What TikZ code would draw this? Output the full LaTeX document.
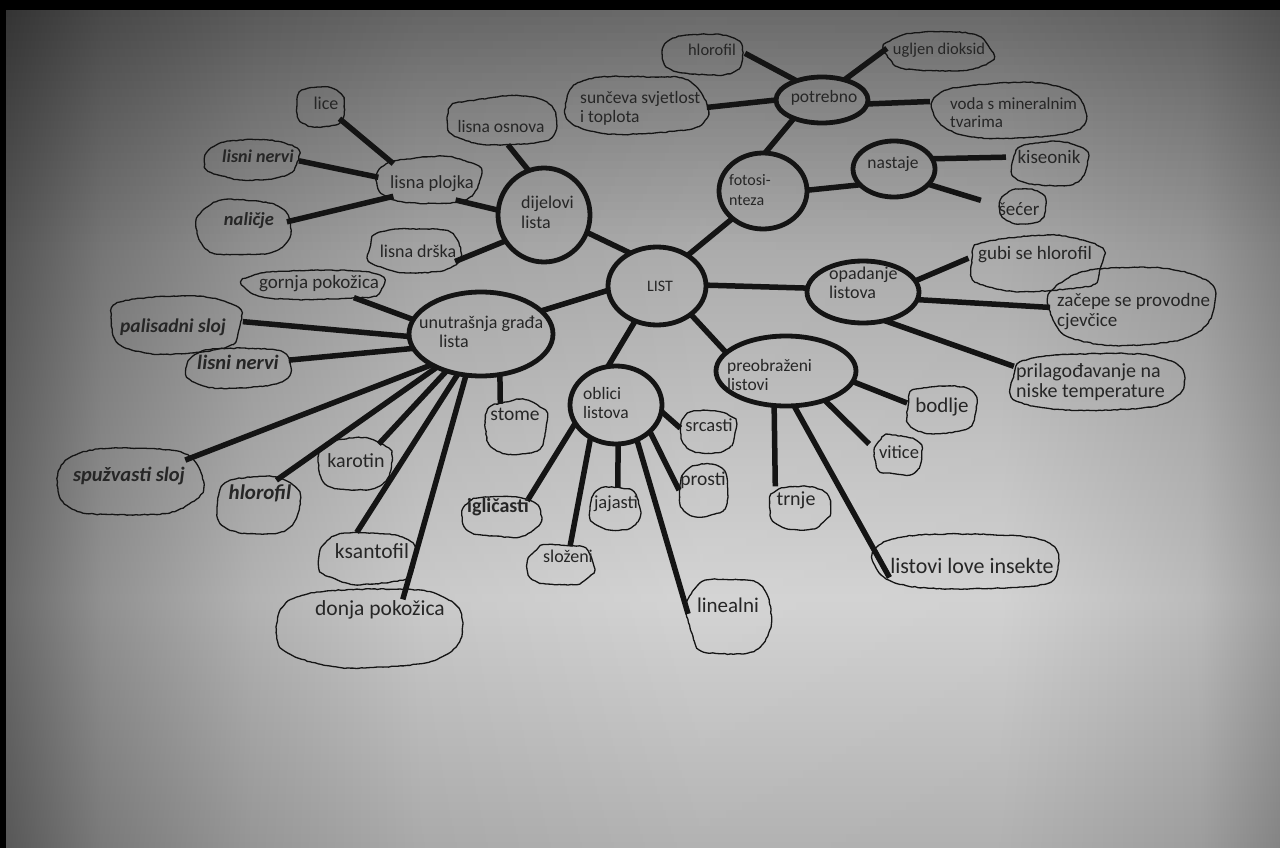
\documentclass[tikz,border=0pt]{standalone}
\usepackage{fontspec}
\setmainfont{Carlito}
\usetikzlibrary{shapes.geometric,decorations.pathmorphing}
\definecolor{ink}{HTML}{141414}
\definecolor{txt}{HTML}{262626}
\newcommand\fsz[1]{\fontsize{#1}{19.5}\selectfont}
\newcommand\blob[3]{%
  \draw[blobline, shift={(#1.center)}] plot[smooth cycle, tension=0.55, variable=\t, samples=12, domain=8:338]
   ({#2*(1+0.07*rand)*sign(cos(\t))*(abs(cos(\t))+0.001)^0.75},
    {#3*(1+0.07*rand)*sign(sin(\t))*(abs(sin(\t))+0.001)^0.75});
}
\tikzset{
  conn/.style={line width=5.5pt, draw=ink},
  mainell/.style={ellipse, draw=ink, line width=4.8pt, inner sep=0pt, outer sep=0pt},
  leaf/.style={ellipse, inner sep=0pt, outer sep=0pt},
  blobline/.style={draw=ink, line width=1.3pt, line join=round,
    decorate, decoration={random steps, segment length=3pt, amplitude=0.45pt}},
  lt/.style={text=txt, inner sep=0pt, font=\fsz{18}},
}
\begin{document}
\begin{tikzpicture}[x=1pt,y=-1pt]
\pgfmathsetseed{7}
\useasboundingbox (0,0) rectangle (1280,848);
% ---------- photographed paper background ----------
\foreach \yy in {10,18,...,842}{
  \pgfmathsetmacro\C{105 + 27*min(1,max(0,(\yy+4-10)/90)) + 40*min(1,max(0,(\yy+4-100)/150)) + 24*min(1,max(0,(\yy+4-250)/200)) + 16*min(1,max(0,(\yy+4-450)/150)) - 34*min(1,max(0,(\yy+4-600)/248))}
  \foreach \xa/\xb/\fa/\fb in {0/100/0.48/0.68, 100/250/0.68/0.84, 250/420/0.84/0.95, 420/700/0.95/1.0, 700/1000/1.0/0.99, 1000/1200/0.99/0.88, 1200/1280/0.88/0.74}{
    \pgfmathsetmacro\va{\C*\fa/255}
    \pgfmathsetmacro\vb{\C*\fb/255}
    \definecolor{ca}{rgb}{\va,\va,\va}
    \definecolor{cb}{rgb}{\vb,\vb,\vb}
    \shade[left color=ca, right color=cb] (\xa,\yy) rectangle (\xb+0.6,\yy+8.6);
  }
}
\fill[black] (0,0) rectangle (1280,10);
\fill[black] (0,0) rectangle (6,848);

% ---------- main ellipses ----------
\node[mainell, minimum width=98pt, minimum height=78pt] (LIST) at (657,286) {};
\node[mainell, minimum width=92pt, minimum height=94pt] (dij) at (544,215) {};
\node[mainell, minimum width=88pt, minimum height=76pt] (foto) at (763,191) {};
\node[mainell, minimum width=92pt, minimum height=46pt] (potr) at (822,100) {};
\node[mainell, minimum width=82pt, minimum height=56pt] (nast) at (894,169) {};
\node[mainell, minimum width=112pt, minimum height=62pt] (opad) at (863,292) {};
\node[mainell, minimum width=140pt, minimum height=70pt] (preo) at (786,371) {};
\node[mainell, minimum width=92pt, minimum height=78pt] (obl) at (616,405) {};
\node[mainell, minimum width=144pt, minimum height=84pt] (unut) at (481,334) {};

% ---------- leaf areas ----------
\node[leaf, minimum width=48pt, minimum height=40pt] (lice) at (320,107) {};
\node[leaf, minimum width=92pt, minimum height=40pt] (lnerva) at (253,160) {};
\node[leaf, minimum width=90pt, minimum height=56pt] (nal) at (243,228) {};
\node[leaf, minimum width=104pt, minimum height=46pt] (plojka) at (430,180) {};
\node[leaf, minimum width=110pt, minimum height=48pt] (osnova) at (502,121) {};
\node[leaf, minimum width=94pt, minimum height=44pt] (drska) at (415,250) {};
\node[leaf, minimum width=144pt, minimum height=30pt] (gornja) at (315,285) {};
\node[leaf, minimum width=136pt, minimum height=58pt] (palis) at (175,324) {};
\node[leaf, minimum width=108pt, minimum height=40pt] (lnervb) at (239,368) {};
\node[leaf, minimum width=142pt, minimum height=68pt] (spuz) at (131,482) {};
\node[leaf, minimum width=84pt, minimum height=56pt] (hlorb) at (257,505) {};
\node[leaf, minimum width=74pt, minimum height=52pt] (karot) at (355,464) {};
\node[leaf, minimum width=98pt, minimum height=52pt] (ksant) at (366,558) {};
\node[leaf, minimum width=184pt, minimum height=80pt] (donja) at (372,627) {};
\node[leaf, minimum width=62pt, minimum height=54pt] (stome) at (516,427) {};
\node[leaf, minimum width=76pt, minimum height=42pt] (iglic) at (501,516) {};
\node[leaf, minimum width=50pt, minimum height=42pt] (jajas) at (615,508) {};
\node[leaf, minimum width=66pt, minimum height=40pt] (slozen) at (560,565) {};
\node[leaf, minimum width=56pt, minimum height=42pt] (srcas) at (708,431) {};
\node[leaf, minimum width=50pt, minimum height=52pt] (prost) at (704,491) {};
\node[leaf, minimum width=82pt, minimum height=78pt] (lineal) at (729,616) {};
\node[leaf, minimum width=62pt, minimum height=42pt] (trnje) at (799,508) {};
\node[leaf, minimum width=48pt, minimum height=40pt] (vitic) at (898,455) {};
\node[leaf, minimum width=70pt, minimum height=48pt] (bodlj) at (941,409) {};
\node[leaf, minimum width=188pt, minimum height=58pt] (insekt) at (969,562) {};
\node[leaf, minimum width=136pt, minimum height=56pt] (gubi) at (1035,264) {};
\node[leaf, minimum width=164pt, minimum height=76pt] (zacep) at (1132,306) {};
\node[leaf, minimum width=174pt, minimum height=60pt] (prilag) at (1097,382) {};
\node[leaf, minimum width=76pt, minimum height=44pt] (kiseo) at (1050,164) {};
\node[leaf, minimum width=46pt, minimum height=34pt] (secer) at (1023,207) {};
\node[leaf, minimum width=152pt, minimum height=56pt] (voda) at (1011,110) {};
\node[leaf, minimum width=106pt, minimum height=40pt] (uglj) at (939,52) {};
\node[leaf, minimum width=80pt, minimum height=42pt] (hlora) at (705,54) {};
\node[leaf, minimum width=140pt, minimum height=60pt] (sunc) at (637,105) {};

% ---------- connectors ----------
\draw[conn] (lice.-31) -- (plojka.156);
\draw[conn] (lnerva.-1) -- (plojka.177);
\draw[conn] (nal.8) -- (plojka.204);
\draw[conn] (plojka.-38) -- (dij.174);
\draw[conn] (osnova.-76) -- (dij.109);
\draw[conn] (drska.-16) -- (dij.214);
\draw[conn] (dij.-22) -- (LIST.129);
\draw[conn] (LIST.45) -- (foto.222);
\draw[conn] (foto.87) -- (potr.213);
\draw[conn] (foto.1) -- (nast.205);
\draw[conn] (potr.143) -- (hlora.1);
\draw[conn] (potr.42) -- (uglj.176);
\draw[conn] (potr.180) -- (sunc.-2);
\draw[conn, shorten >=9pt] (potr.-5) -- (voda.173);
\draw[conn, shorten >=8pt] (nast.15) -- (kiseo.169);
\draw[conn, shorten >=20pt] (nast.-24) -- (secer.178);
\draw[conn] (LIST.1) -- (opad.176);
\draw[conn] (opad.12) -- (gubi.175);
\draw[conn] (opad.-8) -- (zacep.181);
\draw[conn, shorten >=6pt] (opad.-53) -- (prilag.170);
\draw[conn] (LIST.-40) -- (preo.163);
\draw[conn] (preo.-9) -- (bodlj.170);
\draw[conn, shorten >=8pt] (preo.-37) -- (vitic.167);
\draw[conn, shorten >=8pt] (preo.-109) -- (trnje.150);
\draw[conn] (preo.-77) -- (insekt.191);
\draw[conn] (LIST.-122) -- (obl.102);
\draw[conn] (LIST.185) -- (unut.21);
\draw[conn] (obl.-8) -- (srcas.174);
\draw[conn] (obl.-38) -- (prost.178);
\draw[conn] (obl.-59) -- (lineal.177);
\draw[conn] (obl.-87) -- (jajas.82);
\draw[conn] (obl.-128) -- (slozen.62);
\draw[conn] (obl.204) -- (iglic.30);
\draw[conn] (unut.168) -- (gornja.-18);
\draw[conn] (unut.182) -- (palis.2);
\draw[conn] (unut.192) -- (lnervb.9);
\draw[conn] (unut.212) -- (spuz.22);
\draw[conn] (unut.217) -- (hlorb.52);
\draw[conn] (unut.227) -- (karot.40);
\draw[conn] (unut.240) -- (ksant.110);
\draw[conn, shorten >=-10pt] (unut.250) -- (donja.48);
\draw[conn] (unut.-65) -- (stome.124);

% ---------- hand-drawn outlines ----------
\blob{lice}{24}{20}
\blob{lnerva}{46}{20}
\blob{nal}{45}{28}
\blob{plojka}{52}{23}
\blob{osnova}{55}{24}
\blob{drska}{47}{22}
\blob{gornja}{72}{15}
\blob{palis}{68}{29}
\blob{lnervb}{54}{20}
\blob{spuz}{71}{34}
\blob{hlorb}{42}{28}
\blob{karot}{37}{26}
\blob{ksant}{49}{26}
\blob{donja}{92}{40}
\blob{stome}{31}{27}
\blob{iglic}{38}{21}
\blob{jajas}{25}{21}
\blob{slozen}{33}{20}
\blob{srcas}{28}{21}
\blob{prost}{25}{26}
\blob{lineal}{41}{39}
\blob{trnje}{31}{21}
\blob{vitic}{24}{20}
\blob{bodlj}{35}{24}
\blob{insekt}{94}{29}
\blob{gubi}{68}{28}
\blob{zacep}{82}{38}
\blob{prilag}{87}{30}
\blob{kiseo}{38}{22}
\blob{secer}{23}{17}
\blob{voda}{76}{28}
\blob{uglj}{53}{20}
\blob{hlora}{40}{21}
\blob{sunc}{70}{30}

% ---------- texts of the main ellipses ----------
\node[lt, font=\fsz{16}] (LISTt) at (660,286) {LIST};
\node[lt, anchor=west, align=left, font=\fontsize{18}{20}\selectfont] (dijt) at (521,212) {dijelovi\\lista};
\node[lt, anchor=west, align=left, font=\fsz{16}] (fotot) at (729,190) {fotosi-\\nteza};
\node[lt, font=\fsz{17.5}] (potrt) at (824,98) {potrebno};
\node[lt, font=\fsz{17.5}] (nastt) at (893,164) {nastaje};
\node[lt, anchor=west, align=left] (opadt) at (829,283) {opadanje\\listova};
\node[lt, anchor=west, align=left, font=\fsz{17.5}] (preot) at (727,375) {preobraženi\\listovi};
\node[lt, anchor=west, align=left, font=\fsz{17.5}] (oblt) at (583,403) {oblici\\listova};
\node[lt, anchor=west, align=left] (unutt) at (419,332) {unutrašnja građa\\\hspace{20pt}lista};

% ---------- texts of the leaves ----------
\node[lt] (liceT) at (326,103) {lice};
\node[lt, font=\fsz{18}\bfseries\itshape] (lnervaT) at (258,156) {lisni nervi};
\node[lt, font=\fsz{18.5}\bfseries\itshape] (nalT) at (249,221) {naličje};
\node[lt, font=\fsz{18.5}] (plojkaT) at (432,184) {lisna plojka};
\node[lt, font=\fsz{17.5}] (osnovaT) at (501,126) {lisna osnova};
\node[lt] (drskaT) at (418,251) {lisna drška};
\node[lt, font=\fsz{19}] (gornjaT) at (319,284) {gornja pokožica};
\node[lt, font=\fsz{19.5}\bfseries\itshape] (palisT) at (173,327) {palisadni sloj};
\node[lt, font=\fsz{20.5}\bfseries\itshape] (lnervbT) at (238,362) {lisni nervi};
\node[lt, font=\fsz{20.5}\bfseries\itshape] (spuzT) at (129,476) {spužvasti sloj};
\node[lt, font=\fsz{21}\bfseries\itshape] (hlorbT) at (260,493) {hlorofil};
\node[lt, font=\fsz{20}] (karotT) at (356,461) {karotin};
\node[lt, font=\fsz{21.5}] (ksantT) at (372,551) {ksantofil};
\node[lt, font=\fsz{21.5}] (donjaT) at (380,610) {donja pokožica};
\node[lt, font=\fsz{19.5}] (stomeT) at (515,414) {stome};
\node[lt, font=\fsz{20}\bfseries] (iglicT) at (498,507) {igličasti};
\node[lt, font=\fsz{18.5}] (jajasT) at (616,504) {jajasti};
\node[lt] (slozenT) at (568,556) {složeni};
\node[lt, font=\fsz{18.5}] (srcasT) at (709,425) {srcasti};
\node[lt, font=\fsz{19.5}] (prostT) at (703,480) {prosti};
\node[lt, font=\fsz{21}] (linealT) at (728,605) {linealni};
\node[lt, font=\fsz{20}] (trnjeT) at (796,500) {trnje};
\node[lt, font=\fsz{18.5}] (viticT) at (899,452) {vitice};
\node[lt, font=\fsz{21}] (bodljT) at (942,407) {bodlje};
\node[lt, font=\fsz{22}] (insektT) at (972,566) {listovi love insekte};
\node[lt, font=\fsz{19}] (gubiT) at (1035,255) {gubi se hlorofil};
\node[lt, anchor=west, align=left, font=\fontsize{19}{20}\selectfont] (zacepT) at (1057,312) {začepe se provodne\\cjevčice};
\node[lt, anchor=west, align=left, font=\fontsize{20}{20}\selectfont] (prilagT) at (1016,382) {prilagođavanje na\\niske temperature};
\node[lt, font=\fsz{19}] (kiseoT) at (1049,157) {kiseonik};
\node[lt, font=\fsz{19}] (secerT) at (1019,209) {šećer};
\node[lt, anchor=west, align=left, font=\fontsize{17}{18}\selectfont] (vodaT) at (950,113) {voda s mineralnim\\tvarima};
\node[lt, font=\fsz{16.5}] (ugljT) at (939,50) {ugljen dioksid};
\node[lt, font=\fsz{16.5}] (hloraT) at (712,50) {hlorofil};
\node[lt, anchor=west, align=left, font=\fontsize{17.5}{19}\selectfont] (suncT) at (580,108) {sunčeva svjetlost\\i toplota};
\end{tikzpicture}
\end{document}
